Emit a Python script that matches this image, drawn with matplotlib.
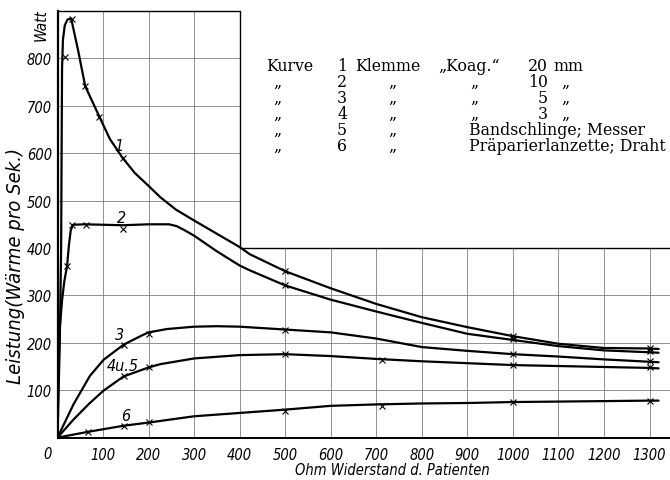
import matplotlib
matplotlib.use("Agg")
import matplotlib.pyplot as plt

# Kurvenverlauf (Ohm, Watt)
k1_x = [0, 5, 8, 9, 10, 12, 16, 22, 30, 45, 61, 92, 115, 143, 170, 200, 226, 260, 300, 400, 422, 500, 600, 700, 800, 900, 1000, 1100, 1200, 1300, 1320]
k1_y = [0, 200, 400, 600, 780, 840, 870, 882, 884, 818, 741, 677, 630, 590, 558, 531, 507, 481, 458, 402, 387, 351, 315, 282, 254, 233, 214, 198, 189, 188, 187]

k2_x = [0, 2, 5, 10, 15, 21, 25, 29, 34, 60, 144, 200, 245, 262, 280, 300, 350, 400, 422, 500, 600, 700, 800, 900, 1000, 1100, 1200, 1300, 1320]
k2_y = [0, 150, 230, 290, 330, 362, 405, 437, 449, 450, 448, 450, 450, 446, 437, 426, 393, 363, 353, 321, 291, 266, 242, 219, 206, 193, 184, 180, 179]

k3_x = [0, 35, 71, 101, 145, 182, 200, 240, 300, 350, 400, 450, 500, 600, 700, 800, 900, 1000, 1100, 1200, 1300, 1320]
k3_y = [0, 70, 130, 164, 196, 214, 222, 229, 234, 235, 234, 231, 228, 222, 209, 191, 183, 176, 171, 165, 160, 159]

k4_x = [0, 36, 70, 101, 145, 200, 226, 300, 400, 500, 600, 700, 800, 900, 1000, 1100, 1200, 1300, 1320]
k4_y = [0, 39, 72, 99, 129, 148, 155, 167, 174, 176, 172, 166, 161, 157, 153, 151, 149, 147, 146]

k6_x = [0, 66, 145, 202, 300, 400, 500, 600, 700, 800, 900, 1000, 1100, 1200, 1300, 1320]
k6_y = [0, 12, 25, 32, 45, 52, 59, 67, 70, 72, 73, 75, 76, 77, 78, 78]

# Messpunkte (x)
m1_x = [16, 31, 61, 92, 144, 500, 1000, 1300]
m1_y = [802, 883, 741, 677, 590, 351, 214, 189]
m2_x = [21, 32, 62, 144, 500, 1000, 1300]
m2_y = [362, 448, 448, 441, 321, 207, 182]
m3_x = [145, 200, 500, 1000, 1300]
m3_y = [196, 219, 227, 176, 161]
m4_x = [145, 200, 500, 713, 1000, 1300]
m4_y = [129, 148, 176, 164, 153, 148]
m6_x = [66, 145, 202, 500, 713, 1000, 1300]
m6_y = [12, 25, 32, 56, 67, 75, 77]

xticks = list(range(100, 1301, 100))
yticks = list(range(100, 801, 100))

narrow = dict(family=['Liberation Sans Narrow', 'DejaVu Sans'], style='italic', stretch='condensed')

fig = plt.figure(figsize=(6.7, 4.81), dpi=100)
ax = fig.add_axes([57.5 / 670, (481 - 438.6) / 481, 1 - 57.5 / 670, (438.6 - 12) / 481])
ax.set_xlim(0, 1345)
ax.set_ylim(0, 900)

# Gitter, oben links nur bis 400 Ohm (dort steht die Legende)
gc = '0.45'
ax.vlines([100, 200, 300], 0, 900, colors=gc, lw=0.55)
ax.vlines(xticks[3:], 0, 400, colors=gc, lw=0.55)
ax.hlines([100, 200, 300], 0, 1345, colors=gc, lw=0.55)
ax.hlines([500, 600, 700, 800], 0, 400, colors=gc, lw=0.55)
ax.plot([0, 400, 400, 1345], [900, 900, 400, 400], color='k', lw=1.0, clip_on=False)

for s in ['top', 'right']:
    ax.spines[s].set_visible(False)
ax.spines['left'].set_linewidth(1.6)
ax.spines['bottom'].set_linewidth(1.4)

for kx, ky in [(k1_x, k1_y), (k2_x, k2_y), (k3_x, k3_y), (k4_x, k4_y), (k6_x, k6_y)]:
    ax.plot(kx, ky, color='k', lw=1.6, solid_capstyle='round')
for mx, my in [(m1_x, m1_y), (m2_x, m2_y), (m3_x, m3_y), (m4_x, m4_y), (m6_x, m6_y)]:
    ax.plot(mx, my, ls='none', marker='x', ms=4.8, mew=0.8, color='k')

ax.set_xticks(xticks)
ax.set_yticks(yticks)
ax.set_xticklabels([str(v) for v in xticks], fontsize=10.5, **narrow)
ax.set_yticklabels([str(v) for v in yticks], fontsize=10.5, **narrow)
ax.tick_params(length=0)
ax.tick_params(axis='x', pad=7)
ax.tick_params(axis='y', pad=4)
ax.annotate('0', xy=(0, 0), xytext=(-10, -16), textcoords='offset pixels',
            ha='center', va='center', fontsize=10.5, **narrow)

fig.text(392 / 670, 1 - 471 / 481, 'Ohm Widerstand d. Patienten', ha='center', va='center',
         fontsize=10.5, **narrow)
fig.text(16 / 670, 1 - 266 / 481, 'Leistung(Wärme pro Sek.)', ha='center', va='center',
         rotation=90, fontsize=14.5, **narrow)
fig.text(41 / 670, 1 - 25 / 481, 'Watt', ha='center', va='center', rotation=90,
         fontsize=11, **narrow)

# Kurvennummern
for lab, lx, ly in [('1', 134, 616), ('2', 141, 465), ('3', 137, 217), ('4u.5', 143, 152), ('6', 150, 46)]:
    ax.text(lx, ly, lab, ha='center', va='center', fontsize=11.5, **narrow)

# Legende
serif = dict(family=['DejaVu Serif'], fontsize=11.3, va='baseline')
rows_y = [71, 87, 103, 119, 135, 151]
nums = ['1', '2', '3', '4', '5', '6']
mm_vals = ['10', '5', '3']
fig.text(266 / 670, 1 - rows_y[0] / 481, 'Kurve', ha='left', **serif)
fig.text(355 / 670, 1 - rows_y[0] / 481, 'Klemme', ha='left', **serif)
fig.text(438 / 670, 1 - rows_y[0] / 481, '\u201eKoag.\u201c', ha='left', **serif)
fig.text(548 / 670, 1 - rows_y[0] / 481, '20', ha='right', **serif)
fig.text(553 / 670, 1 - rows_y[0] / 481, 'mm', ha='left', **serif)
for i, n in enumerate(nums):
    yy = 1 - rows_y[i] / 481
    fig.text(342 / 670, yy, n, ha='center', **serif)
    if i > 0:
        fig.text(277 / 670, yy, '\u201e', ha='center', **serif)
        fig.text(392 / 670, yy, '\u201e', ha='center', **serif)
for i, v in enumerate(mm_vals):
    yy = 1 - rows_y[i + 1] / 481
    fig.text(474 / 670, yy, '\u201e', ha='center', **serif)
    fig.text(548 / 670, yy, v, ha='right', **serif)
    fig.text(565 / 670, yy, '\u201e', ha='center', **serif)
fig.text(469 / 670, 1 - rows_y[4] / 481, 'Bandschlinge; Messer', ha='left', **serif)
fig.text(469 / 670, 1 - rows_y[5] / 481, 'Präparierlanzette; Draht', ha='left', **serif)

fig.savefig('out.png', dpi=100)
